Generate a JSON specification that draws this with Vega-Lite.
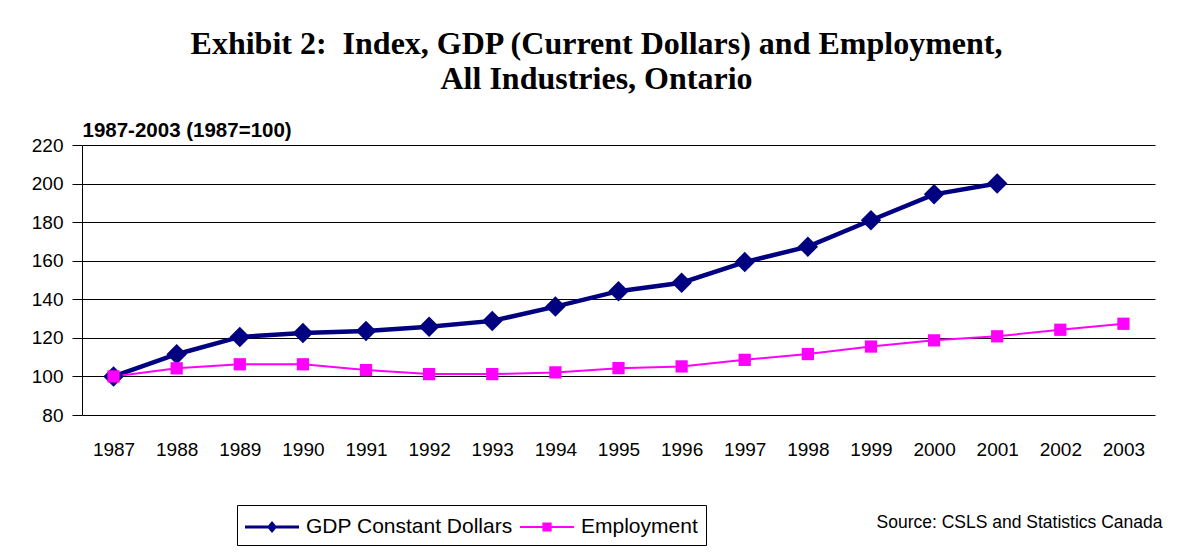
{
  "$schema": "https://vega.github.io/schema/vega-lite/v6.json",
  "width": 1073,
  "height": 270,
  "autosize": {"type": "none"},
  "padding": {"left": 82, "top": 145, "right": 26, "bottom": 137},
  "background": "white",
  "title": {
    "text": ["Exhibit 2:\u00a0 Index, GDP (Current Dollars) and Employment,", "All Industries, Ontario"],
    "font": "Liberation Serif",
    "fontSize": 32,
    "fontWeight": "bold",
    "color": "black",
    "anchor": "middle",
    "dx": -22,
    "lineHeight": 35,
    "offset": 24
  },
  "config": {
    "view": {"stroke": null},
    "axis": {"labelColor": "black", "titleColor": "black"}
  },
  "data": {
    "values": [
      {"year": "1987", "series": "GDP Constant Dollars", "value": 100},
      {"year": "1988", "series": "GDP Constant Dollars", "value": 111.5},
      {"year": "1989", "series": "GDP Constant Dollars", "value": 120.5},
      {"year": "1990", "series": "GDP Constant Dollars", "value": 122.5},
      {"year": "1991", "series": "GDP Constant Dollars", "value": 123.5},
      {"year": "1992", "series": "GDP Constant Dollars", "value": 125.8},
      {"year": "1993", "series": "GDP Constant Dollars", "value": 128.8},
      {"year": "1994", "series": "GDP Constant Dollars", "value": 136.2},
      {"year": "1995", "series": "GDP Constant Dollars", "value": 144.2},
      {"year": "1996", "series": "GDP Constant Dollars", "value": 148.6},
      {"year": "1997", "series": "GDP Constant Dollars", "value": 159.3},
      {"year": "1998", "series": "GDP Constant Dollars", "value": 167.3},
      {"year": "1999", "series": "GDP Constant Dollars", "value": 181},
      {"year": "2000", "series": "GDP Constant Dollars", "value": 194.4},
      {"year": "2001", "series": "GDP Constant Dollars", "value": 200},
      {"year": "1987", "series": "Employment", "value": 100},
      {"year": "1988", "series": "Employment", "value": 104.2},
      {"year": "1989", "series": "Employment", "value": 106.3},
      {"year": "1990", "series": "Employment", "value": 106.3},
      {"year": "1991", "series": "Employment", "value": 103.3},
      {"year": "1992", "series": "Employment", "value": 101.2},
      {"year": "1993", "series": "Employment", "value": 101.2},
      {"year": "1994", "series": "Employment", "value": 102.1},
      {"year": "1995", "series": "Employment", "value": 104.3},
      {"year": "1996", "series": "Employment", "value": 105.2},
      {"year": "1997", "series": "Employment", "value": 108.6},
      {"year": "1998", "series": "Employment", "value": 111.6},
      {"year": "1999", "series": "Employment", "value": 115.5},
      {"year": "2000", "series": "Employment", "value": 118.7},
      {"year": "2001", "series": "Employment", "value": 120.8},
      {"year": "2002", "series": "Employment", "value": 124.2},
      {"year": "2003", "series": "Employment", "value": 127.3}
    ]
  },
  "encoding": {
    "x": {
      "field": "year",
      "type": "ordinal",
      "scale": {"type": "point", "padding": 0.5},
      "axis": {
        "title": "Source: CSLS and Statistics Canada",
        "titleFont": "Liberation Sans",
        "titleFontSize": 17.5,
        "titleFontWeight": "normal",
        "titleAnchor": "end",
        "titleAlign": "right",
        "titleBaseline": "alphabetic",
        "titleX": 1080,
        "titleY": 112,
        "labelAngle": 0,
        "labelFont": "Liberation Sans",
        "labelFontSize": 19,
        "labelPadding": 25,
        "domain": false,
        "ticks": false,
        "grid": false
      }
    },
    "y": {
      "field": "value",
      "type": "quantitative",
      "scale": {"domain": [80, 220], "nice": false, "zero": false},
      "axis": {
        "values": [80, 100, 120, 140, 160, 180, 200, 220],
        "title": "1987-2003 (1987=100)",
        "titleAngle": 0,
        "titleAlign": "left",
        "titleBaseline": "alphabetic",
        "titleX": 0,
        "titleY": -9,
        "titleFont": "Liberation Sans",
        "titleFontSize": 20.5,
        "titleFontWeight": "bold",
        "labelFont": "Liberation Sans",
        "labelFontSize": 19,
        "labelPadding": 9,
        "tickSize": 10,
        "tickColor": "black",
        "domainColor": "black",
        "gridColor": "black",
        "gridOpacity": 1,
        "gridWidth": 1
      }
    },
    "color": {
      "field": "series",
      "type": "nominal",
      "sort": ["GDP Constant Dollars", "Employment"],
      "scale": {"domain": ["GDP Constant Dollars", "Employment"], "range": ["#000080", "#FF00FF"]},
      "legend": {
        "title": null,
        "orient": "none",
        "direction": "horizontal",
        "legendX": 155,
        "legendY": 360,
        "padding": 8,
        "strokeColor": "black",
        "fillColor": "white",
        "symbolSize": 784,
        "symbolStrokeWidth": 0,
        "labelFont": "Liberation Sans",
        "labelFontSize": 21,
        "labelColor": "black",
        "labelLimit": 500,
        "labelOffset": 33,
        "columnPadding": 7,
        "encode": {
          "symbols": {
            "update": {
              "shape": {"signal": "datum.value === 'GDP Constant Dollars' ? 'M-1,-0.11H2.86V0.11H-1Z M0.93,-0.43L1.29,0L0.93,0.43L0.57,0Z' : 'M-1,-0.07H2.86V0.07H-1Z M0.6,-0.33H1.26V0.33H0.6Z'"},
              "fill": {"signal": "datum.value === 'GDP Constant Dollars' ? '#000080' : '#FF00FF'"},
              "stroke": {"value": "transparent"},
              "strokeWidth": {"value": 0},
              "opacity": {"value": 1}
            }
          }
        }
      }
    }
  },
  "layer": [
    {
      "transform": [{"filter": "datum.series === 'GDP Constant Dollars'"}],
      "mark": {"type": "line", "strokeWidth": 4.5}
    },
    {
      "transform": [{"filter": "datum.series === 'Employment'"}],
      "mark": {"type": "line", "strokeWidth": 2}
    },
    {
      "transform": [{"filter": "datum.series === 'GDP Constant Dollars'"}],
      "mark": {"type": "point", "filled": true, "opacity": 1, "shape": "diamond", "size": 420}
    },
    {
      "transform": [{"filter": "datum.series === 'Employment'"}],
      "mark": {"type": "point", "filled": true, "opacity": 1, "shape": "square", "size": 150}
    }
  ]
}
